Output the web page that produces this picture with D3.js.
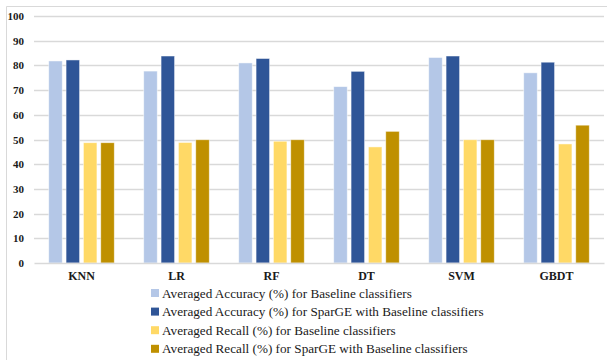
<!DOCTYPE html>
<html>
<head>
<meta charset="utf-8">
<script src="https://cdn.jsdelivr.net/npm/d3@7"></script>
<style>
  body { margin: 0; background: #fff; }
  svg { display: block; }
</style>
</head>
<body>
<div id="chart"></div>
<script>
// Chart data
const classifiers = ['KNN', 'LR', 'RF', 'DT', 'SVM', 'GBDT'];
const seriesNames = [
    'Averaged Accuracy (%) for Baseline classifiers',
    'Averaged Accuracy (%) for SparGE with Baseline classifiers',
    'Averaged Recall (%) for Baseline classifiers',
    'Averaged Recall (%) for SparGE with Baseline classifiers'
];
const accBaseline = [81.8, 77.7, 81.0, 71.4, 83.2, 77.0];
const accSparGE = [82.2, 83.8, 82.8, 77.6, 83.8, 81.3];
const recBaseline = [48.7, 48.8, 49.3, 47.0, 49.9, 48.2];
const recSparGE = [48.7, 49.9, 49.9, 53.3, 49.9, 55.8];
const yTicks = [0, 10, 20, 30, 40, 50, 60, 70, 80, 90, 100];

const colors = ['#B4C7E7', '#2F5597', '#FFD966', '#BF9000'];
const allSeries = [accBaseline, accSparGE, recBaseline, recSparGE];

const width = 607, height = 360;
const margin = {top: 16, right: 3, bottom: 97, left: 34};
const innerW = width - margin.left - margin.right;
const innerH = height - margin.top - margin.bottom;

const svg = d3.select('#chart')
    .append('svg')
    .attr('width', width)
    .attr('height', height);

// Outer frame
svg.append('path')
    .attr('d', 'M6.5,360 L6.5,6.5 L607,6.5')
    .attr('fill', 'none')
    .attr('stroke', '#d9d9d9')
    .attr('stroke-width', 1);

const g = svg.append('g')
    .attr('transform', `translate(${margin.left},${margin.top})`);

const x = d3.scaleBand()
    .domain(classifiers)
    .range([0, innerW])
    .paddingInner(0)
    .paddingOuter(0);

const x1 = d3.scaleBand()
    .domain(d3.range(4))
    .range([x.bandwidth() * 0.155, x.bandwidth() * 0.845])
    .paddingInner(0.22);

const y = d3.scaleLinear()
    .domain([0, 100])
    .range([innerH, 0]);

// Gridlines
g.append('g')
    .selectAll('line')
    .data(yTicks.filter(t => t > 0))
    .enter()
    .append('line')
    .attr('x1', 0)
    .attr('x2', innerW)
    .attr('y1', d => Math.round(y(d)) + 0.5)
    .attr('y2', d => Math.round(y(d)) + 0.5)
    .attr('stroke', '#d9d9d9')
    .attr('stroke-width', 1.3);

// Bars
const groups = g.selectAll('.grp')
    .data(classifiers)
    .enter()
    .append('g')
    .attr('class', 'grp')
    .attr('transform', d => `translate(${x(d)},0)`);

groups.selectAll('rect')
    .data((d, i) => allSeries.map((s, k) => ({k, v: s[i]})))
    .enter()
    .append('rect')
    .attr('x', d => x1(d.k))
    .attr('y', d => y(d.v))
    .attr('width', x1.bandwidth())
    .attr('height', d => innerH - y(d.v))
    .attr('fill', d => colors[d.k])
    .attr('stroke', '#fff')
    .attr('stroke-opacity', 0.6)
    .attr('stroke-width', 0.8);

// X axis
const xAxis = g.append('g')
    .attr('transform', `translate(0,${innerH})`)
    .call(d3.axisBottom(x).tickSize(0).tickPadding(8));
xAxis.select('.domain').attr('stroke', '#d9d9d9').attr('stroke-width', 1.3);
xAxis.selectAll('text')
    .style('font-family', '"Liberation Serif", "Times New Roman", serif')
    .style('font-weight', 'bold')
    .style('font-size', '12px')
    .attr('fill', '#1a1a1a');

// Y axis
const yAxis = g.append('g')
    .call(d3.axisLeft(y).tickValues(yTicks).tickSize(0).tickPadding(10));
yAxis.select('.domain').remove();
yAxis.selectAll('text')
    .style('font-family', '"Liberation Serif", "Times New Roman", serif')
    .style('font-weight', 'bold')
    .style('font-size', '11px')
    .attr('fill', '#1a1a1a');

// Legend
const legend = svg.append('g')
    .attr('transform', 'translate(151,293)');

const items = legend.selectAll('.item')
    .data(seriesNames)
    .enter()
    .append('g')
    .attr('class', 'item')
    .attr('transform', (d, i) => `translate(0,${i * 18.6})`);

items.append('rect')
    .attr('x', 0)
    .attr('y', -4)
    .attr('width', 8)
    .attr('height', 8)
    .attr('fill', (d, i) => colors[i]);

items.append('text')
    .attr('x', 11)
    .attr('y', 0)
    .attr('dy', '0.35em')
    .style('font-family', '"Liberation Serif", "Times New Roman", serif')
    .style('font-size', '13.2px')
    .attr('fill', '#1a1a1a')
    .text(d => d);
</script>
</body>
</html>
